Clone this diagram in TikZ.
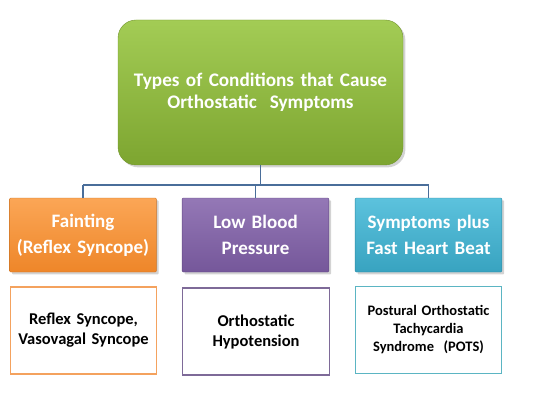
\documentclass[tikz,border=0pt]{standalone}
\usepackage{fontspec}
\setmainfont{Carlito}
\usetikzlibrary{shadows}
\definecolor{greentop}{HTML}{A3CC55}
\definecolor{greenbot}{HTML}{7DA530}
\definecolor{orangetop}{HTML}{FBA656}
\definecolor{orangebot}{HTML}{EE8629}
\definecolor{purpletop}{HTML}{9478B6}
\definecolor{purplebot}{HTML}{75579A}
\definecolor{bluetop}{HTML}{5CC2DD}
\definecolor{bluebot}{HTML}{38A3C0}
\definecolor{orangeline}{HTML}{F4A25E}
\definecolor{purpleline}{HTML}{7E6A98}
\definecolor{blueline}{HTML}{5BB5C3}
\definecolor{busline}{HTML}{4A6E9A}

\begin{document}
\begin{tikzpicture}[x=1pt,y=-1pt,
			top_style/.style={rounded corners=18pt, top color=greentop, bottom color=greenbot, draw=greenbot!90!black, thin,
				minimum width=285pt, minimum height=145pt, text width=275pt, align=center, text=white,
				font=\bfseries\fontsize{19.2}{22}\selectfont, drop shadow={opacity=0.35}},
			head_style/.style={rounded corners=1pt, top color=#1top, bottom color=#1bot, draw=#1bot!85!black, thin,
				minimum width=143pt, minimum height=74pt, text width=140pt, align=center, text=white,
				font=\bfseries\fontsize{19}{26}\selectfont, drop shadow={opacity=0.35}},
			leaf_style/.style={draw=#1line, line width=1.3pt, fill=white,
				minimum width=143pt, minimum height=87pt, text width=140pt, align=center,
				font=\bfseries\fontsize{16.5}{20}\selectfont},
			edge_style/.style={line width=1.2pt, busline}]
			
			\useasboundingbox (0,0) rectangle (533,401);
			
			\node[top_style] (top) at (260.5,92.5) {Types of Conditions that Cause\\ Orthostatic~ Symptoms};
			
			\node[head_style=orange] (faint) at (83,235) {Fainting\\ (Reflex Syncope)};
			\node[head_style=purple] (low) at (255.5,235) {Low Blood\\ Pressure};
			\node[head_style=blue] (fast) at (428.5,235) {Symptoms plus\\ Fast Heart Beat};
			
			\node[leaf_style=orange] (reflex) at (83.5,330.5) {Reflex Syncope,\\ Vasovagal Syncope};
			\node[leaf_style=purple] (ortho) at (256,331.5) {Orthostatic\\ Hypotension};
			\node[leaf_style=blue, font=\bfseries\fontsize{14.5}{18}\selectfont] (pots) at (428.5,330) {Postural Orthostatic\\ Tachycardia\\ Syndrome~ (POTS)};
			
			\coordinate (bus) at (0,185);
			\draw[edge_style] (top.south) -- (top.south |- bus);
			\draw[edge_style] (faint.north |- bus) -- (fast.north |- bus);
			\foreach \n in {faint,low,fast}{
				\draw[edge_style] (\n.north) -- (\n.north |- bus);}
		\end{tikzpicture}
\end{document}
